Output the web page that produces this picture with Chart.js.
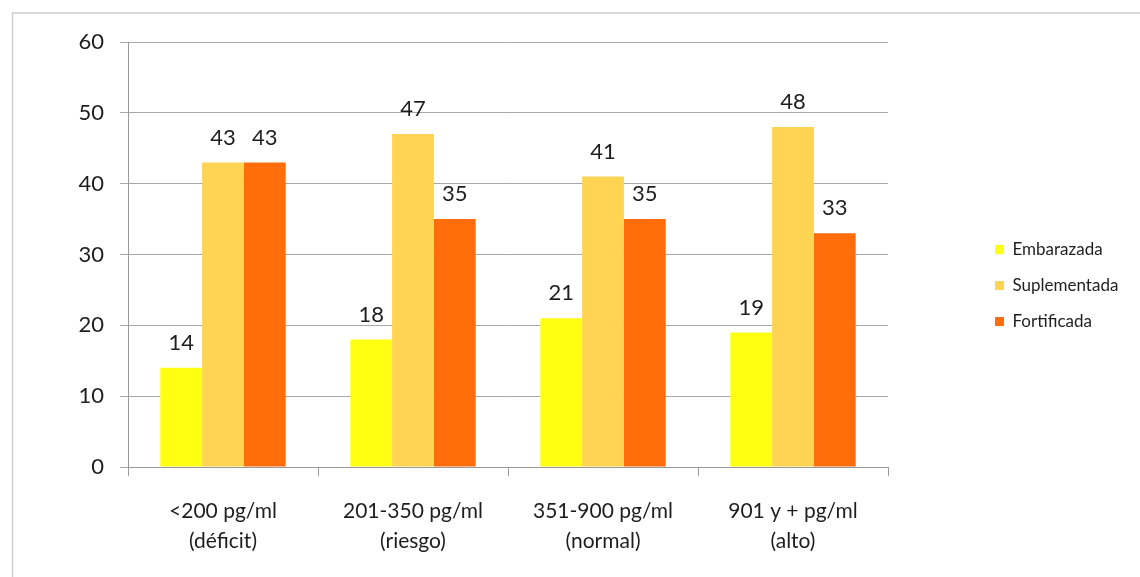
<!DOCTYPE html>
<html>
<head>
<meta charset="utf-8">
<script src="https://cdn.jsdelivr.net/npm/chart.js@4.4.0/dist/chart.umd.min.js"></script>
<style>
  html, body { margin: 0; padding: 0; background: #fff; }
  #wrap { width: 1140px; height: 577px; position: relative; }
</style>
</head>
<body>
<div id="wrap"><canvas id="chart"></canvas></div>
<script>
// data
const categories = [
  ['<200 pg/ml', '(déficit)'],
  ['201-350 pg/ml', '(riesgo)'],
  ['351-900 pg/ml', '(normal)'],
  ['901 y + pg/ml', '(alto)']
];
const embarazada = [14, 18, 21, 19];
const suplementada = [43, 47, 41, 48];
const fortificada = [43, 35, 35, 33];
const yTicks = [0, 10, 20, 30, 40, 50, 60];

const FONT = "Lato, 'Open Sans', sans-serif";

// outer frame (only left and top edges are visible)
const framePlugin = {
  id: 'frame',
  beforeDraw(chart) {
    const ctx = chart.ctx;
    ctx.save();
    ctx.strokeStyle = '#cfcfcf';
    ctx.lineWidth = 1.5;
    ctx.beginPath();
    ctx.moveTo(12.5, 577);
    ctx.lineTo(12.5, 13);
    ctx.lineTo(1140, 13);
    ctx.stroke();
    ctx.restore();
  }
};

// value labels above bars
const valueLabels = {
  id: 'valueLabels',
  afterDatasetsDraw(chart) {
    const ctx = chart.ctx;
    ctx.save();
    ctx.font = '22px ' + FONT;
    ctx.fillStyle = '#1e1e1e';
    ctx.textAlign = 'center';
    ctx.textBaseline = 'middle';
    chart.data.datasets.forEach((ds, i) => {
      chart.getDatasetMeta(i).data.forEach((bar, j) => {
        ctx.fillText(ds.data[j], bar.x, bar.y - 25);
      });
    });
    ctx.restore();
  }
};

// push the legend away from the plot like in the original
const legendSpot = {
  id: 'legendSpot',
  afterInit(chart) {
    const lg = chart.legend;
    const fit = lg.fit.bind(lg);
    lg.fit = function () { fit(); this.width = 1140 - 888; };
    const draw = lg.draw.bind(lg);
    lg.draw = function () {
      const l = this.left, t = this.top, b = this.bottom;
      this.left = l + 88;
      this.top = t - 24; this.bottom = b - 24;
      draw();
      this.left = l; this.top = t; this.bottom = b;
    };
  }
};

new Chart(document.getElementById('chart'), {
  type: 'bar',
  data: {
    labels: categories,
    datasets: [
      { label: 'Embarazada', data: embarazada, backgroundColor: '#ffff14' },
      { label: 'Suplementada', data: suplementada, backgroundColor: '#ffd452' },
      { label: 'Fortificada', data: fortificada, backgroundColor: '#ff6e0a' }
    ]
  },
  plugins: [framePlugin, valueLabels, legendSpot],
  options: {
    responsive: true,
    maintainAspectRatio: false,
    animation: false,
    layout: { padding: { top: 42, left: 0, right: 0, bottom: 0 } },
    datasets: {
      bar: { categoryPercentage: 0.66, barPercentage: 1 }
    },
    plugins: {
      tooltip: { enabled: false },
      legend: {
        position: 'right',
        labels: {
          boxWidth: 9,
          boxHeight: 9,
          padding: 19,
          color: '#1e1e1e',
          font: { family: FONT, size: 17 }
        }
      }
    },
    scales: {
      y: {
        min: 0,
        max: 60,
        afterFit(s) { s.width = 128; },
        afterBuildTicks(s) { s.ticks = yTicks.map(v => ({ value: v })); },
        border: { color: '#9a9a9a', width: 1 },
        grid: { color: '#a8a8a8', tickLength: 8 },
        ticks: {
          padding: 16,
          color: '#1e1e1e',
          font: { family: FONT, size: 22 }
        }
      },
      x: {
        afterFit(s) { s.height = 110; },
        border: { color: '#9a9a9a', width: 1 },
        grid: { offset: true, drawOnChartArea: false, color: '#9a9a9a', tickLength: 9 },
        ticks: {
          padding: 21,
          color: '#1e1e1e',
          maxRotation: 0,
          font: { family: FONT, size: 21, lineHeight: 1.4 }
        }
      }
    }
  }
});
</script>
</body>
</html>
